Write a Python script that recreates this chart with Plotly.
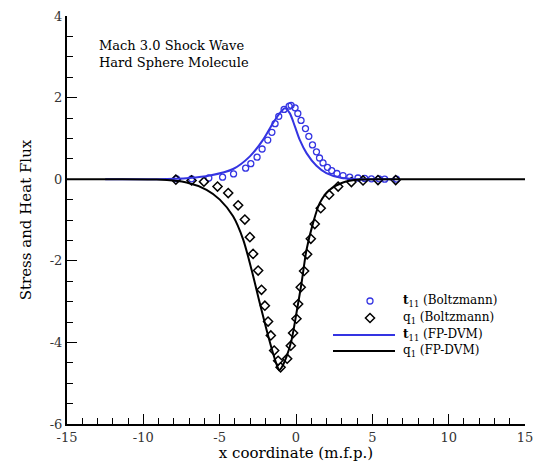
import plotly.graph_objects as go

# t11 (Boltzmann) samples
t11_b_x = [-7.82, -6.84, -5.71, -4.81, -4.09, -3.30, -2.96, -2.55, -2.22, -1.85,
           -1.58, -1.37, -1.13, -0.78, -0.45, -0.32, -0.06, 0.12, 0.33, 0.62,
           0.84, 1.08, 1.34, 1.54, 1.77, 2.06, 2.34, 2.68, 3.08, 3.52,
           4.06, 4.50, 4.94, 5.44, 5.81, 6.58]
t11_b_y = [0.01, 0.01, 0.03, 0.05, 0.13, 0.27, 0.38, 0.54, 0.74, 0.96,
           1.15, 1.36, 1.54, 1.71, 1.79, 1.81, 1.75, 1.61, 1.44, 1.24,
           1.05, 0.84, 0.67, 0.52, 0.40, 0.29, 0.21, 0.14, 0.09, 0.05,
           0.03, 0.02, 0.01, 0.01, 0.00, 0.00]

# q1 (Boltzmann) samples
q1_b_x = [-7.87, -6.84, -6.03, -5.14, -4.44, -3.79, -3.35, -3.02, -2.81, -2.48,
          -2.26, -2.04, -1.83, -1.65, -1.43, -1.17, -1.01, -0.58, -0.34, -0.19,
          0.03, 0.14, 0.31, 0.53, 0.73, 0.97, 1.23, 1.62, 2.17, 2.76,
          3.63, 4.39, 5.37, 6.53]
q1_b_y = [-0.01, -0.03, -0.06, -0.18, -0.34, -0.64, -0.99, -1.42, -1.83, -2.24,
          -2.71, -3.10, -3.49, -3.83, -4.20, -4.45, -4.61, -4.40, -4.08, -3.77,
          -3.42, -3.06, -2.65, -2.25, -1.84, -1.46, -1.10, -0.71, -0.38, -0.18,
          -0.07, -0.03, -0.02, -0.02]

# t11 (FP-DVM) profile
t11_f_x = [-12.5, -9.13, -7.0, -5.64, -4.12, -3.02, -2.15, -1.50, -1.06, -0.73,
           -0.41, -0.08, 0.24, 0.69, 1.34, 1.99, 2.87, 3.96, 5.0, 6.5]
t11_f_y = [0.0, 0.0, 0.03, 0.09, 0.25, 0.56, 0.97, 1.38, 1.62, 1.74,
           1.62, 1.30, 0.97, 0.64, 0.33, 0.15, 0.04, 0.0, 0.0, 0.0]

# q1 (FP-DVM) profile
q1_f_x = [-15.0, -12.5, -9.13, -7.17, -5.86, -4.99, -4.12, -3.46, -2.91, -2.37,
          -1.93, -1.50, -1.17, -1.11, -0.95, -0.62, -0.29, 0.03, 0.36, 0.69,
          1.12, 1.56, 2.21, 3.08, 4.18, 6.0, 15.0]
q1_f_y = [0.0, 0.0, -0.01, -0.08, -0.26, -0.50, -0.91, -1.48, -2.22, -3.04,
          -3.69, -4.27, -4.64, -4.68, -4.62, -4.35, -3.94, -3.28, -2.55, -1.73,
          -1.07, -0.58, -0.26, -0.08, -0.01, 0.0, 0.0]

# axis ticks (hyphen-minus labels)
x_ticks = [-15, -10, -5, 0, 5, 10, 15]
y_ticks = [-6, -4, -2, 0, 2, 4]

# legend entries
legend_labels = ["<b>t</b><sub>11</sub> (Boltzmann)", "q<sub>1</sub> (Boltzmann)",
                 "<b>t</b><sub>11</sub> (FP-DVM)", "q<sub>1</sub> (FP-DVM)"]

BLUE = "rgb(52,52,226)"
SERIF = "DejaVu Serif"

circle_marker = dict(symbol="circle-open", size=6, color=BLUE, line=dict(width=1.3, color=BLUE))
diamond_marker = dict(symbol="diamond-open", size=7, color="black", line=dict(width=1.5, color="black"))
blue_line = dict(color=BLUE, width=2)
black_line = dict(color="black", width=2)

fig = go.Figure()
fig.add_trace(go.Scatter(x=t11_b_x, y=t11_b_y, mode="markers", marker=circle_marker, showlegend=False))
fig.add_trace(go.Scatter(x=q1_b_x, y=q1_b_y, mode="markers", marker=diamond_marker, showlegend=False))
fig.add_trace(go.Scatter(x=t11_f_x, y=t11_f_y, mode="lines",
                         line=dict(blue_line, shape="spline", smoothing=0.8), showlegend=False))
fig.add_trace(go.Scatter(x=q1_f_x, y=q1_f_y, mode="lines",
                         line=dict(black_line, shape="spline", smoothing=0.8), showlegend=False))

# Legend keys drawn on a pixel-unit overlay axis pair
legend_rows = [301, 318, 335, 351]
key_x0, key_x1, key_mid, text_x = 333, 395, 370, 401
fig.add_trace(go.Scatter(x=[key_mid], y=[legend_rows[0]], xaxis="x2", yaxis="y2",
                         mode="markers", marker=circle_marker, showlegend=False))
fig.add_trace(go.Scatter(x=[key_mid], y=[legend_rows[1]], xaxis="x2", yaxis="y2",
                         mode="markers", marker=diamond_marker, showlegend=False))
fig.add_trace(go.Scatter(x=[key_x0, key_x1], y=[legend_rows[2]] * 2, xaxis="x2", yaxis="y2",
                         mode="lines", line=blue_line, showlegend=False))
fig.add_trace(go.Scatter(x=[key_x0, key_x1], y=[legend_rows[3]] * 2, xaxis="x2", yaxis="y2",
                         mode="lines", line=black_line, showlegend=False))
for label, row in zip(legend_labels, legend_rows):
    fig.add_annotation(x=text_x, y=row, xref="x2", yref="y2", xanchor="left", yanchor="middle",
                       text=label, showarrow=False,
                       font=dict(family=SERIF, size=12, color="black"))

fig.add_annotation(
    x=0.066, y=0.95, xref="paper", yref="paper", xanchor="left", yanchor="top",
    text="Mach 3.0 Shock Wave<br>Hard Sphere Molecule", showarrow=False, align="left",
    font=dict(family=SERIF, size=13, color="black"),
)

minor_x = dict(tickmode="linear", tick0=0, dtick=1, ticks="inside", ticklen=6,
               tickwidth=1.2, tickcolor="black", showgrid=False)
minor_y = dict(tickmode="linear", tick0=0, dtick=0.5, ticks="inside", ticklen=6,
               tickwidth=1.2, tickcolor="black", showgrid=False)

fig.update_layout(
    width=535, height=462,
    margin=dict(l=67, r=10, t=16, b=38),
    paper_bgcolor="white", plot_bgcolor="white",
    font=dict(family=SERIF, color="black"),
    showlegend=False,
    xaxis=dict(
        range=[-15, 15], tickmode="array", tickvals=x_ticks,
        ticktext=[str(v) for v in x_ticks],
        showgrid=False, zeroline=False, automargin=False,
        showline=True, linecolor="black", linewidth=2,
        ticks="inside", ticklen=10, tickwidth=1.2, tickcolor="black",
        minor=minor_x,
        tickfont=dict(family=SERIF, size=13, color="#333"),
        title=dict(text="x coordinate (m.f.p.)",
                   font=dict(family=SERIF, size=15, color="black"), standoff=6),
    ),
    yaxis=dict(
        range=[-6, 4], tickmode="array", tickvals=y_ticks,
        ticktext=[str(v) for v in y_ticks],
        showgrid=False, zeroline=False, automargin=False,
        showline=True, linecolor="black", linewidth=2,
        ticks="inside", ticklen=10, tickwidth=1.2, tickcolor="black",
        minor=minor_y,
        tickfont=dict(family=SERIF, size=13, color="#333"),
        title=dict(text="Stress and Heat Flux",
                   font=dict(family=SERIF, size=15, color="black"), standoff=14),
    ),
    xaxis2=dict(overlaying="x", range=[67, 525], visible=False, fixedrange=True),
    yaxis2=dict(overlaying="y", range=[424, 16], visible=False, fixedrange=True),
)

fig.write_html("out.html")
